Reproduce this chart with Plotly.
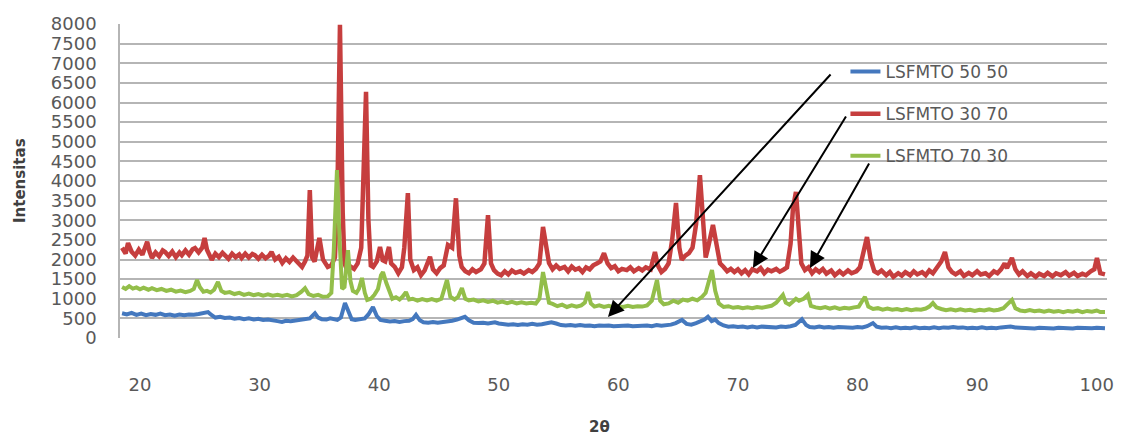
import plotly.graph_objects as go

# ---------------- data ----------------
series_names = ["LSFMTO 50 50", "LSFMTO 30 70", "LSFMTO 70 30"]

x_5050 = [18.5, 18.9, 19.3, 19.7, 20.1, 20.5, 20.9, 21.3, 21.7, 22.1, 22.5, 22.9, 23.3, 23.7, 24.1, 24.5, 24.9,
          25.3, 25.69, 26.0, 26.3, 26.7, 27.1, 27.5, 27.9, 28.3, 28.7, 29.1, 29.5, 29.9, 30.3, 30.7, 31.1, 31.5,
          31.87, 32.2, 32.6, 33.0, 33.4, 33.8, 34.2, 34.63, 34.9, 35.2, 35.6, 35.9, 36.2, 36.5, 36.8, 37.14, 37.4,
          37.7, 38.0, 38.4, 38.8, 39.1, 39.48, 39.8, 40.1, 40.5, 40.9, 41.3, 41.7, 42.1, 42.5, 42.8, 43.08, 43.4,
          43.7, 44.1, 44.5, 44.9, 45.3, 45.7, 46.1, 46.5, 46.9, 47.17, 47.5, 47.9, 48.3, 48.7, 49.1, 49.5, 49.68,
          50.0, 50.4, 50.8, 51.2, 51.6, 52.0, 52.4, 52.8, 53.2, 53.6, 54.0, 54.4, 54.8, 55.2, 55.6, 56.0, 56.4,
          56.8, 57.2, 57.6, 58.0, 58.4, 58.8, 59.2, 59.6, 60.0, 60.4, 60.8, 61.2, 61.6, 62.0, 62.4, 62.8, 63.2,
          63.6, 64.0, 64.4, 64.8, 65.32, 65.7, 66.1, 66.5, 66.9, 67.2, 67.49, 67.8, 68.1, 68.4, 68.8, 69.2, 69.6,
          70.0, 70.4, 70.8, 71.2, 71.6, 72.0, 72.4, 72.8, 73.2, 73.6, 74.0, 74.4, 74.8, 75.35, 75.7, 76.0, 76.4,
          76.8, 77.2, 77.6, 78.0, 78.4, 78.8, 79.2, 79.6, 80.0, 80.4, 80.8, 81.29, 81.6, 82.0, 82.4, 82.8, 83.2,
          83.6, 84.0, 84.4, 84.8, 85.2, 85.6, 86.0, 86.4, 86.8, 87.2, 87.6, 88.0, 88.4, 88.8, 89.2, 89.6, 90.0,
          90.4, 90.8, 91.2, 91.6, 92.0, 92.4, 92.8, 93.2, 93.6, 94.0, 94.4, 94.8, 95.2, 95.6, 96.0, 96.4, 96.8,
          97.2, 97.6, 98.0, 98.4, 98.8, 99.2, 99.6, 100.0, 100.4, 100.69]
y_5050 = [630, 600, 640, 590, 620, 580, 610, 590, 620, 580, 600, 570, 600, 580, 600, 590, 610,
          630, 660, 580, 520, 540, 510, 520, 490, 510, 480, 500, 470, 490, 460, 470, 440, 430,
          410, 440, 430, 450, 460, 470, 500, 630, 520, 480, 470, 500, 470, 460, 520, 890, 700,
          480, 460, 470, 500, 600, 790, 560, 460, 440, 420, 430, 410, 430, 440, 480, 590, 450,
          400, 390, 410, 390, 400, 420, 440, 470, 500, 540, 450, 390, 380, 390, 370, 390, 400,
          370, 350, 340, 350, 330, 350, 340, 360, 340, 350, 370, 400, 370, 330, 320, 330, 310,
          330, 310, 320, 300, 320, 310, 320, 300, 310, 300, 320, 300, 310, 300, 320, 300, 330,
          310, 320, 340, 380, 460, 360, 340, 380, 420, 470, 540, 430, 470, 380, 320, 290, 300,
          280, 290, 270, 290, 270, 290, 280, 290, 270, 290, 280, 300, 330, 480, 330, 280, 270,
          290, 270, 280, 260, 280, 270, 280, 260, 280, 270, 300, 380, 290, 260, 270, 250, 270,
          250, 260, 250, 270, 250, 260, 250, 270, 250, 270, 260, 280, 260, 270, 250, 260, 250,
          270, 250, 260, 250, 270, 280, 290, 270, 260, 250, 260, 240, 260, 250, 260, 240, 260,
          250, 260, 240, 260, 250, 260, 250, 260, 250, 250]

x_3070 = [18.5, 18.8, 19.0, 19.3, 19.6, 19.9, 20.2, 20.6, 20.8, 21.0, 21.3, 21.6, 21.9, 22.1, 22.4, 22.7, 23.0,
          23.3, 23.5, 23.8, 24.1, 24.4, 24.6, 24.9, 25.2, 25.4, 25.6, 25.8, 26.0, 26.3, 26.6, 26.9, 27.1, 27.4,
          27.7, 28.0, 28.3, 28.5, 28.8, 29.1, 29.4, 29.6, 29.9, 30.2, 30.5, 30.8, 31.0, 31.3, 31.6, 31.9, 32.2,
          32.5, 32.8, 33.0, 33.3, 33.55, 33.8, 34.0, 34.2, 34.4, 34.6, 35.0, 35.3, 35.5, 35.7, 36.0, 36.3, 36.5,
          36.72, 36.95, 37.1, 37.3, 37.6, 37.9, 38.2, 38.5, 38.7, 38.9, 39.1, 39.3, 39.5, 39.8, 40.07, 40.3,
          40.5, 40.82, 41.0, 41.3, 41.6, 41.9, 42.1, 42.4, 42.6, 42.9, 43.2, 43.5, 43.8, 44.0, 44.25, 44.5,
          44.8, 45.1, 45.4, 45.75, 46.1, 46.42, 46.7, 46.9, 47.2, 47.5, 47.8, 48.1, 48.5, 48.8, 49.1, 49.35,
          49.6, 49.9, 50.2, 50.5, 50.8, 51.1, 51.4, 51.8, 52.1, 52.5, 52.8, 53.1, 53.4, 53.7, 54.0, 54.2,
          54.5, 54.8, 55.1, 55.5, 55.8, 56.1, 56.4, 56.7, 57.0, 57.3, 57.6, 57.9, 58.2, 58.5, 58.8, 59.1,
          59.4, 59.7, 60.0, 60.3, 60.7, 61.0, 61.3, 61.7, 62.0, 62.3, 62.7, 63.06, 63.3, 63.6, 63.9, 64.2,
          64.5, 64.82, 65.1, 65.3, 65.6, 65.9, 66.2, 66.5, 66.82, 67.1, 67.3, 67.5, 67.91, 68.2, 68.5, 68.8,
          69.1, 69.4, 69.7, 70.0, 70.3, 70.6, 70.9, 71.2, 71.6, 71.9, 72.2, 72.5, 72.8, 73.2, 73.5, 73.8,
          74.1, 74.4, 74.6, 74.85, 75.1, 75.3, 75.6, 75.9, 76.2, 76.5, 76.8, 77.1, 77.4, 77.8, 78.1, 78.5,
          78.8, 79.2, 79.5, 79.9, 80.2, 80.5, 80.79, 81.1, 81.4, 81.7, 82.0, 82.4, 82.7, 83.0, 83.4, 83.7,
          84.0, 84.4, 84.7, 85.0, 85.4, 85.7, 86.0, 86.3, 86.7, 87.0, 87.31, 87.6, 87.9, 88.2, 88.6, 88.9,
          89.3, 89.6, 90.0, 90.3, 90.7, 91.0, 91.4, 91.7, 92.0, 92.3, 92.5, 92.91, 93.2, 93.5, 93.8, 94.2,
          94.5, 94.9, 95.2, 95.6, 95.9, 96.3, 96.6, 97.0, 97.4, 97.7, 98.1, 98.4, 98.8, 99.1, 99.5, 99.8,
          100.02, 100.3, 100.69]
y_3070 = [2300, 2150, 2420, 2200, 2100, 2250, 2120, 2450, 2200, 2040, 2180, 2080, 2230, 2190, 2090, 2200, 2060,
          2180, 2110, 2230, 2120, 2260, 2290, 2180, 2300, 2550, 2250, 2100, 1990, 2150, 2060, 2170, 2110, 2020,
          2150, 2060, 2130, 2040, 2150, 2050, 2140, 2110, 2020, 2120, 2030, 2100, 2190, 2000, 2070, 1910, 2030,
          1940, 2050, 1990, 1880, 1810, 1950, 2100, 3770, 2050, 1950, 2550, 2000, 1900, 1810, 1850, 2050, 3500,
          7980, 3200, 1900, 1750, 1820, 1760, 1900, 2300, 4800, 6270, 3000, 1850, 1810, 1950, 2320, 1980,
          1950, 2320, 1900, 1810, 1650, 1800, 2300, 3690, 2000, 1730, 1800, 1600, 1720, 1850, 2070, 1750,
          1650, 1780, 1850, 2370, 2300, 3560, 2100, 1810, 1700, 1650, 1750, 1680, 1750, 1900, 3130, 1900,
          1730, 1640, 1600, 1700, 1620, 1720, 1660, 1700, 1640, 1730, 1680, 1760, 1900, 2830, 2300, 1910,
          1750, 1850, 1760, 1810, 1700, 1820, 1740, 1780, 1680, 1800, 1750, 1850, 1900, 1950, 2160, 1900,
          1780, 1830, 1700, 1760, 1730, 1800, 1700, 1780, 1720, 1800, 1750, 2190, 1850, 1680, 1760, 1900,
          2500, 3440, 2300, 1990, 2100, 2160, 2300, 2900, 4150, 2700, 2050, 2300, 2880, 2400, 1900, 1810,
          1700, 1760, 1680, 1750, 1650, 1730, 1620, 1750, 1700, 1780, 1650, 1740, 1700, 1760, 1690, 1740,
          1800, 2400, 3300, 3720, 2700, 1900, 1730, 1800, 1650, 1750, 1680, 1760, 1640, 1720, 1600, 1700,
          1620, 1720, 1650, 1700, 1800, 2200, 2570, 2000, 1700, 1650, 1720, 1600, 1680, 1560, 1650, 1590,
          1680, 1600, 1700, 1620, 1680, 1600, 1720, 1650, 1800, 1950, 2190, 1800, 1680, 1620, 1700, 1580,
          1660, 1600, 1700, 1620, 1650, 1580, 1700, 1650, 1750, 1900, 1780, 2040, 1750, 1620, 1700, 1580,
          1650, 1560, 1640, 1580, 1660, 1570, 1650, 1600, 1680, 1590, 1660, 1580, 1640, 1600, 1700, 1750,
          2040, 1650, 1620]

x_7030 = [18.5, 18.8, 19.1, 19.4, 19.7, 20.0, 20.3, 20.7, 21.0, 21.4, 21.8, 22.2, 22.6, 23.0, 23.4, 23.8, 24.2,
          24.5, 24.77, 25.0, 25.3, 25.6, 25.9, 26.2, 26.52, 26.8, 27.1, 27.5, 27.9, 28.3, 28.7, 29.1, 29.5,
          29.9, 30.3, 30.7, 31.1, 31.5, 31.9, 32.3, 32.7, 33.1, 33.5, 33.8, 34.1, 34.5, 34.9, 35.3, 35.7, 36.0,
          36.2, 36.47, 36.7, 36.9, 37.1, 37.39, 37.6, 37.8, 38.1, 38.3, 38.56, 38.8, 39.0, 39.3, 39.6, 39.9,
          40.15, 40.32, 40.6, 40.9, 41.1, 41.4, 41.7, 41.95, 42.24, 42.5, 42.8, 43.2, 43.6, 44.0, 44.4, 44.8,
          45.2, 45.67, 45.95, 46.3, 46.6, 46.92, 47.2, 47.5, 47.9, 48.3, 48.7, 49.1, 49.5, 49.9, 50.3, 50.7,
          51.1, 51.5, 51.9, 52.3, 52.7, 53.1, 53.4, 53.7, 53.95, 54.2, 54.5, 54.9, 55.3, 55.7, 56.1, 56.5,
          56.9, 57.2, 57.46, 57.7, 58.0, 58.4, 58.8, 59.2, 59.6, 60.0, 60.4, 60.8, 61.2, 61.6, 62.0, 62.4,
          62.8, 63.23, 63.5, 63.8, 64.2, 64.6, 65.0, 65.4, 65.8, 66.2, 66.6, 67.0, 67.3, 67.6, 67.83, 68.1,
          68.4, 68.8, 69.2, 69.6, 70.0, 70.4, 70.8, 71.2, 71.6, 72.0, 72.4, 72.8, 73.2, 73.5, 73.76, 74.0,
          74.3, 74.6, 74.85, 75.1, 75.5, 75.85, 76.1, 76.5, 76.9, 77.3, 77.7, 78.1, 78.5, 78.9, 79.3, 79.7,
          80.1, 80.4, 80.62, 80.9, 81.3, 81.7, 82.1, 82.5, 82.9, 83.3, 83.7, 84.1, 84.5, 84.9, 85.3, 85.7,
          86.0, 86.3, 86.6, 87.0, 87.4, 87.8, 88.2, 88.6, 89.0, 89.4, 89.8, 90.2, 90.6, 91.0, 91.4, 91.8,
          92.2, 92.5, 92.91, 93.2, 93.6, 94.0, 94.4, 94.8, 95.2, 95.6, 96.0, 96.4, 96.8, 97.2, 97.6, 98.0,
          98.4, 98.8, 99.2, 99.6, 100.0, 100.3, 100.69]
y_7030 = [1300, 1250, 1320, 1260, 1290, 1240, 1280, 1230, 1270, 1220, 1250, 1200, 1230, 1180, 1210, 1170, 1200,
          1250, 1480, 1300, 1180, 1200, 1160, 1230, 1430, 1200, 1150, 1170, 1120, 1150, 1100, 1130, 1090,
          1120, 1080, 1110, 1080, 1100, 1070, 1100, 1060, 1090, 1180, 1270, 1120, 1070, 1100, 1050, 1060, 1150,
          2200, 4280, 2400, 1250, 1300, 2240, 1450, 1200, 1150, 1250, 1530, 1150, 970, 1000, 1100, 1250,
          1600, 1680, 1400, 1150, 1000, 1040, 980, 1050, 1170, 980, 1000, 950, 990, 960, 990, 950,
          1000, 1480, 1050, 980, 1050, 1270, 1000, 960, 980, 930, 960, 920, 950, 900, 930, 890,
          920, 880, 910, 880, 900, 880, 1000, 1680, 1300, 900, 870, 810, 850, 790, 830, 800,
          830, 900, 1170, 880, 800, 830, 790, 820, 780, 810, 790, 820, 790, 810, 800, 830,
          950, 1480, 950, 860, 880, 950, 900, 980, 950, 1000, 960, 1050, 1150, 1500, 1730, 1200,
          880, 790, 810, 770, 790, 760, 780, 760, 790, 770, 800, 820, 900, 1000, 1100, 900,
          850, 930, 1000, 950, 1000, 1100, 820, 780, 760, 790, 750, 780, 740, 770, 750, 780,
          800, 950, 1050, 800, 740, 760, 720, 750, 720, 740, 710, 740, 710, 730, 720, 750,
          800, 890, 780, 740, 710, 730, 700, 730, 700, 720, 690, 720, 700, 730, 700, 720,
          760, 850, 970, 760, 700, 680, 710, 680, 700, 670, 700, 670, 690, 660, 690, 670,
          700, 660, 690, 670, 700, 660, 660]

series_colors = ["#4478BE", "#C63E3E", "#93BE4A"]
series_widths = [4, 4.5, 4]

x_ticks = [20, 30, 40, 50, 60, 70, 80, 90, 100]
y_ticks = list(range(0, 8001, 500))

# ---------------- figure ----------------
fig = go.Figure()
for i, (xs, ys) in enumerate([(x_5050, y_5050), (x_3070, y_3070), (x_7030, y_7030)]):
    fig.add_trace(go.Scatter(
        x=xs, y=ys, mode="lines", name=series_names[i],
        line=dict(color=series_colors[i], width=series_widths[i]),
        legendgroup=f"g{i}",
    ))

tick_font = dict(family="DejaVu Sans", size=18, color="#595959")
title_font = dict(family="DejaVu Sans", size=15, color="#404040")

# the page body has an 8px default margin, so the figure is 8px smaller
fig.update_layout(
    width=1121, height=429,
    margin=dict(l=112, r=22, t=16, b=99, autoexpand=False),
    paper_bgcolor="white", plot_bgcolor="white",
    showlegend=True,
    legend=dict(
        x=0.735, y=0.9045, xanchor="left", yanchor="top",
        bgcolor="rgba(0,0,0,0)", font=dict(family="DejaVu Sans", size=17, color="#595959"),
        tracegroupgap=17, itemwidth=30,
    ),
    xaxis=dict(
        range=[18.328, 100.86], tickmode="array", tickvals=x_ticks,
        showgrid=False, zeroline=False, showline=False, automargin=False,
        tickfont=tick_font, ticks="", ticklabelstandoff=34,
    ),
    yaxis=dict(
        range=[0, 8000], tickmode="array", tickvals=y_ticks,
        showgrid=True, gridcolor="#B5B5B5", gridwidth=1.5, zeroline=False,
        showline=True, linecolor="#B5B5B5", linewidth=1.5, automargin=False,
        tickfont=tick_font, ticks="", ticklabelstandoff=18,
    ),
)

# axis titles
fig.add_annotation(text="<b>2θ</b>", xref="paper", yref="paper", x=0.486, y=-0.285,
                   xanchor="center", yanchor="middle", showarrow=False, font=title_font)
fig.add_annotation(text="<b>Intensitas</b>", xref="paper", yref="paper", x=-0.1013, y=0.5,
                   xanchor="center", yanchor="middle", showarrow=False, textangle=-90, font=title_font)

arrow_common = dict(showarrow=True, arrowhead=2, arrowsize=1.6, arrowwidth=2, arrowcolor="black",
                    text="", xref="x", yref="y", axref="pixel", ayref="pixel")
fig.add_annotation(x=59.13, y=535, ax=224, ay=-244, **arrow_common)
fig.add_annotation(x=71.25, y=1784, ax=94, ay=-153, **arrow_common)
fig.add_annotation(x=76.02, y=1784, ax=60, ay=-106, **arrow_common)

fig.write_html("out.html")
